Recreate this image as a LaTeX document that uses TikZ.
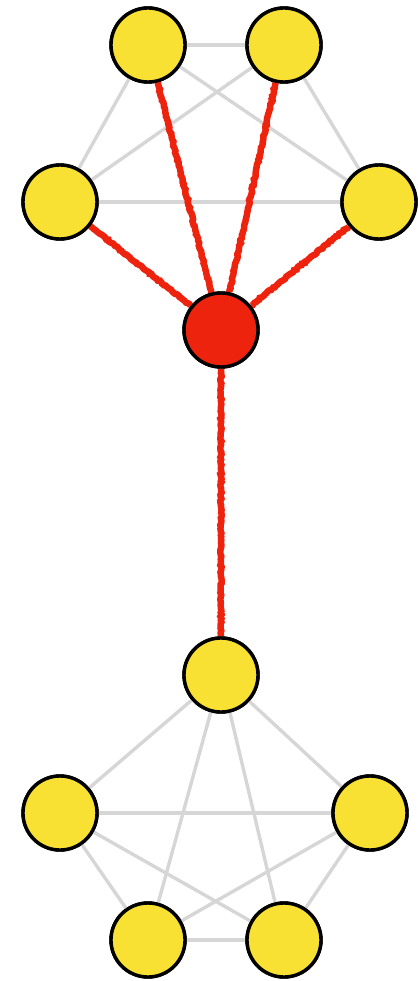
\documentclass[tikz,border=0pt]{standalone}
\usetikzlibrary{decorations.pathmorphing}
\definecolor{vyellow}{HTML}{F8E133}
\definecolor{vred}{HTML}{EE230E}
\definecolor{egray}{HTML}{D6D6D6}
\begin{document}
\begin{tikzpicture}[x=1pt,y=-1pt,
  vtx/.style={circle,draw=black,line width=3.4pt,fill=vyellow,minimum size=74pt,inner sep=0pt},
  hub/.style={vtx,fill=vred},
  gedge/.style={egray,line width=3.4pt},
  redge/.style={vred,line width=6.5pt,decorate,decoration={random steps,segment length=2pt,amplitude=0.7pt}}]
			\useasboundingbox (0,0) rectangle (417,981);
			% upper group
			\node[vtx] (t1) at (148,45) {};
			\node[vtx] (t2) at (284,45) {};
			\node[vtx] (t3) at (60,202) {};
			\node[vtx] (t4) at (379,202) {};
			\node[hub] (c) at (221,330) {};
			% lower group
			\node[vtx] (b1) at (221,675) {};
			\node[vtx] (b2) at (60,813) {};
			\node[vtx] (b3) at (370,813) {};
			\node[vtx] (b4) at (148,940) {};
			\node[vtx] (b5) at (284,940) {};
			\draw[gedge] (t1) -- (t2);
			\draw[gedge] (t1) -- (t3);
			\draw[gedge] (t2) -- (t4);
			\draw[gedge] (t3) -- (t4);
			\draw[gedge] (t3) -- (t2);
			\draw[gedge] (t1) -- (t4);
			\draw[gedge] (b1) -- (b2);
			\draw[gedge] (b1) -- (b3);
			\draw[gedge] (b1) -- (b4);
			\draw[gedge] (b1) -- (b5);
			\draw[gedge] (b2) -- (b3);
			\draw[gedge] (b2) -- (b5);
			\draw[gedge] (b3) -- (b4);
			\draw[gedge] (b4) -- (b5);
			\draw[gedge] (b2) -- (b4);
			\draw[gedge] (b3) -- (b5);
			\draw[redge] (c) -- (t1);
			\draw[redge] (c) -- (t2);
			\draw[redge] (c) -- (t3);
			\draw[redge] (c) -- (t4);
			\draw[redge] (c) -- (b1);
			% redraw discs above the edges
			\foreach \n in {t1,t2,t3,t4,b1,b2,b3,b4,b5}
				\node[vtx] at (\n) {};
			\node[hub] at (c) {};
		\end{tikzpicture}
\end{document}
